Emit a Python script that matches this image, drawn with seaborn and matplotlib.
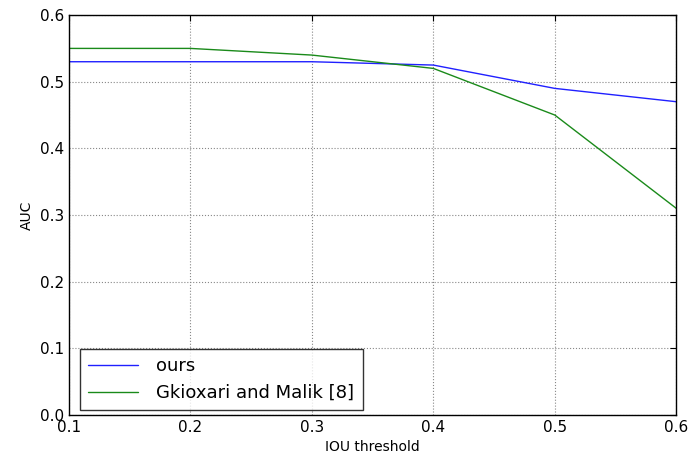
import pandas as pd
import matplotlib.pyplot as plt
import seaborn as sns

# values
iou = [0.1, 0.2, 0.3, 0.4, 0.5, 0.6]
ours = [0.53, 0.53, 0.53, 0.525, 0.49, 0.47]
gkioxari = [0.55, 0.55, 0.54, 0.52, 0.45, 0.31]
series_names = ['ours', 'Gkioxari and Malik [8]']

df = pd.concat([
    pd.DataFrame({'IOU threshold': iou, 'AUC': ours, 'method': series_names[0]}),
    pd.DataFrame({'IOU threshold': iou, 'AUC': gkioxari, 'method': series_names[1]}),
])

sns.set_style('white')
plt.rcParams['font.family'] = ['DejaVu Sans']
plt.rcParams['text.color'] = 'black'

fig, ax = plt.subplots(figsize=(6.88, 4.57), dpi=100)
sns.lineplot(data=df, x='IOU threshold', y='AUC', hue='method',
             palette={series_names[0]: '#2020ff', series_names[1]: '#1a8a1a'},
             linewidth=1.0, ax=ax)

ax.set_xlim(0.1, 0.6)
ax.set_ylim(0.0, 0.6)
ax.set_xticks(iou)
ax.set_yticks([0.0, 0.1, 0.2, 0.3, 0.4, 0.5, 0.6])
ax.tick_params(direction='in', top=True, right=True, labelsize=11, length=4,
               colors='black')
ax.grid(True, linestyle=':', color='#888888', linewidth=0.8)
for s in ax.spines.values():
    s.set_color('black')
    s.set_linewidth(1.0)
ax.set_xlabel('IOU threshold', fontsize=10, color='black')
ax.set_ylabel('AUC', fontsize=10, color='black')

leg = ax.legend(loc='lower left', bbox_to_anchor=(0.018, 0.012), fontsize=13,
                frameon=True, fancybox=False, handlelength=2.8,
                handletextpad=1.0, borderpad=0.45, labelspacing=0.5,
                borderaxespad=0.0)
leg.get_frame().set_edgecolor('black')
leg.get_frame().set_linewidth(1.0)
for t in leg.get_texts():
    t.set_color('black')

plt.subplots_adjust(left=0.1, right=0.983, top=0.967, bottom=0.092)
plt.savefig('out.png', dpi=100)
